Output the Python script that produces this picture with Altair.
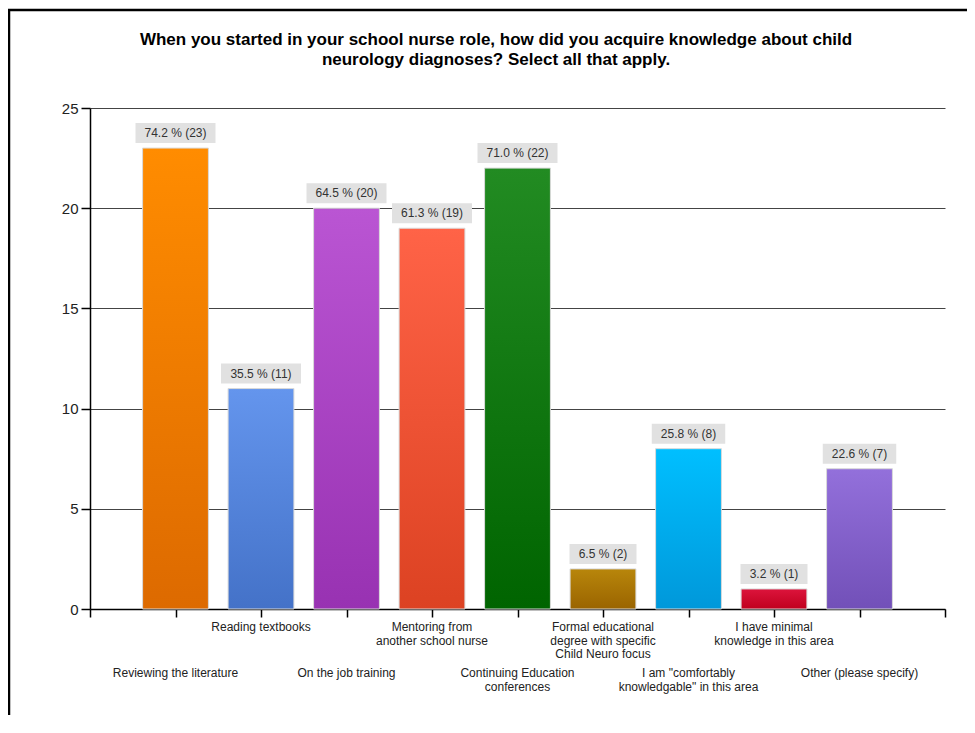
import altair as alt
import pandas as pd

# ---------------- data ----------------
title_lines = [
    "When you started in your school nurse role, how did you acquire knowledge about child",
    "neurology diagnoses? Select all that apply.",
]
categories = [
    "Reviewing the literature",
    "Reading textbooks",
    "On the job training",
    "Mentoring from\nanother school nurse",
    "Continuing Education\nconferences",
    "Formal educational\ndegree with specific\nChild Neuro focus",
    'I am "comfortably\nknowledgable" in this area',
    "I have minimal\nknowledge in this area",
    "Other (please specify)",
]
counts = [23, 11, 20, 19, 22, 2, 8, 1, 7]
percents = [74.2, 35.5, 64.5, 61.3, 71.0, 6.5, 25.8, 3.2, 22.6]
top_colors = ["#FF8C00", "#6495ED", "#BA55D3", "#FF6347", "#228B22",
              "#B8860B", "#00BFFF", "#DC143C", "#9370DB"]
bottom_colors = ["#DD6A00", "#4472C8", "#9832B2", "#DC4222", "#006400",
                 "#9A6400", "#0098DA", "#C0001E", "#7250B8"]
y_ticks = [0, 5, 10, 15, 20, 25]
x_ticks = list(range(0, 11))

FONT = "Liberation Sans"

df = pd.DataFrame({
    "category": categories,
    "count": counts,
    "pct": percents,
    "pos": list(range(1, len(categories) + 1)),
})
df["label"] = [f"{p:.1f} % ({c})" for p, c in zip(percents, counts)]
df["row"] = ["low" if i % 2 == 0 else "high" for i in range(len(categories))]
df["zero"] = 0

W, H = 855, 501

xscale = alt.Scale(domain=[0, 10], nice=False, zero=False)
yscale = alt.Scale(domain=[0, 25], nice=False)
xaxis = alt.Axis(values=x_ticks, labels=False, title=None, grid=False,
                 tickSize=8, tickColor="#000", domainColor="#000",
                 tickWidth=1.5, domainWidth=1.5)
yaxis = alt.Axis(values=y_ticks, title=None, grid=True, gridColor="#444",
                 gridWidth=1, tickSize=9, tickColor="#000", domainColor="#000",
                 tickWidth=1.5, domainWidth=1.5, labelFont=FONT, labelFontSize=15,
                 labelColor="#222", labelPadding=3)


def X(field):
    return alt.X(field, type="quantitative", scale=xscale, axis=xaxis)


def Y(field):
    return alt.Y(field, type="quantitative", scale=yscale, axis=yaxis)


layers = []
for i in range(len(categories)):
    grad = alt.Gradient(
        gradient="linear",
        stops=[alt.GradientStop(color=top_colors[i], offset=0),
               alt.GradientStop(color=bottom_colors[i], offset=1)],
        x1=0, x2=0, y1=0, y2=1,
    )
    bar = (
        alt.Chart(df)
        .transform_filter(alt.datum.pos == i + 1)
        .transform_calculate(xa="datum.pos - 0.385", xb="datum.pos + 0.385")
        .mark_bar(fill=grad, stroke="#d9d9d9", strokeWidth=1)
        .encode(x=X("xa"), x2="xb:Q", y=Y("count"), y2="zero:Q")
    )
    layers.append(bar)

# label boxes
boxes = (
    alt.Chart(df)
    .transform_calculate(
        hw="(3.25 * length(datum.label) + 4.25) / 85.5",
        xa="datum.pos - datum.hw",
        xb="datum.pos + datum.hw",
    )
    .mark_rect(fill="#E1E1E1", yOffset=-25, y2Offset=-5)
    .encode(x=X("xa"), x2="xb:Q", y=Y("count"), y2="count:Q")
)
labels = (
    alt.Chart(df)
    .mark_text(font=FONT, fontSize=12, color="#333", baseline="middle",
               align="center", yOffset=-15)
    .encode(x=X("pos"), y=Y("count"), text="label:N")
)

# category labels (two staggered rows)
cat_high = (
    alt.Chart(df)
    .transform_filter(alt.datum.row == "high")
    .mark_text(font=FONT, fontSize=12, color="#222", baseline="top",
               align="center", lineBreak="\n", lineHeight=13.5)
    .encode(x=X("pos"), y=alt.value(H + 13), text="category:N")
)
cat_low = (
    alt.Chart(df)
    .transform_filter(alt.datum.row == "low")
    .mark_text(font=FONT, fontSize=12, color="#222", baseline="top",
               align="center", lineBreak="\n", lineHeight=13.5)
    .encode(x=X("pos"), y=alt.value(H + 59), text="category:N")
)

# title
title_df = pd.DataFrame({"t": ["\n".join(title_lines)]})
title = (
    alt.Chart(title_df)
    .mark_text(font=FONT, fontSize=17, fontWeight="bold", color="#000",
               baseline="top", align="center", lineBreak="\n", lineHeight=20)
    .encode(x=alt.value(406), y=alt.value(-76), text="t:N")
)

# outer frame (decoration)
frame_df = pd.DataFrame({"k": [0]})
frame_top = alt.Chart(frame_df).mark_rule(color="#000", strokeWidth=2.5).encode(
    x=alt.value(-82), x2=alt.value(900), y=alt.value(-98)
)
frame_left = alt.Chart(frame_df).mark_rule(color="#000", strokeWidth=2.5).encode(
    x=alt.value(-81), y=alt.value(-99), y2=alt.value(700)
)

chart = (
    alt.layer(*layers, boxes, labels, cat_high, cat_low, title, frame_top, frame_left)
    .properties(
        width=W, height=H,
        padding={"left": 82, "top": 100, "right": 22, "bottom": 106},
        autosize=alt.AutoSizeParams(type="none"),
        background="white",
    )
    .configure_view(stroke=None)
)

chart.save("out.html", embed_options={"renderer": "svg", "actions": False})
